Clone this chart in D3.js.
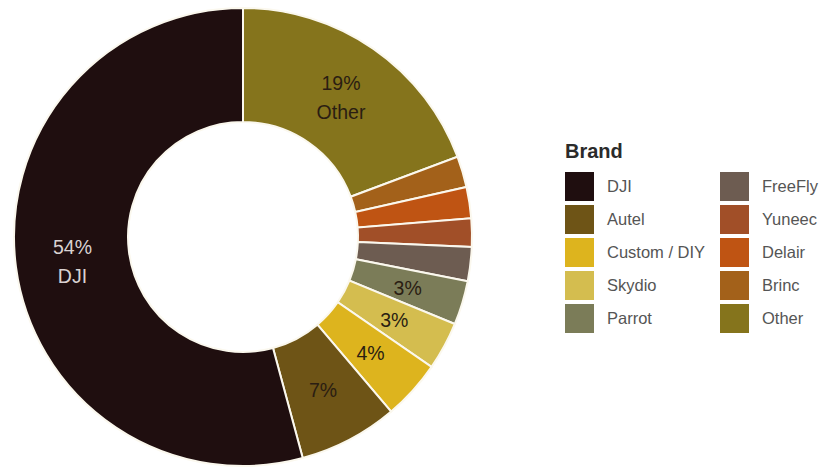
<!DOCTYPE html>
<html>
<head>
<meta charset="utf-8">
<script src="https://cdn.jsdelivr.net/npm/d3@7"></script>
<style>
  html, body { margin: 0; padding: 0; background: #fff; }
  svg { display: block; font-family: "Liberation Sans", Arial, sans-serif; }
</style>
</head>
<body>
<svg id="chart" width="832" height="468"></svg>
<script>
const brands = ["DJI", "Autel", "Custom / DIY", "Skydio", "Parrot", "FreeFly", "Yuneec", "Delair", "Brinc", "Other"];
const shares = [54.2, 7.0, 4.2, 3.4, 3.1, 2.4, 2.0, 2.2, 2.2, 19.3];
const colors = ["#1f0e0f", "#6e5416", "#ddb41e", "#d4bd4f", "#7b7c58", "#6d5c51", "#a14f28", "#bf5413", "#a3611a", "#85741c"];
const labelMin = 3;

const data = brands.map((b, i) => ({ brand: b, value: shares[i], color: colors[i] }));

const svg = d3.select("#chart");
const cx = 243, cy = 237, outerR = 229, innerR = 115;

const color = d3.scaleOrdinal().domain(brands).range(colors);

// DJI ends at 12 o'clock; the rest run clockwise from the top in reverse order
const pie = d3.pie().value(d => d.value).sort(null);
const ordered = data.slice().reverse();
const arcs = pie(ordered);
const arc = d3.arc().innerRadius(innerR).outerRadius(outerR);

const g = svg.append("g").attr("transform", `translate(${cx},${cy})`);
g.selectAll("path").data(arcs).join("path")
  .attr("d", arc)
  .attr("fill", d => color(d.data.brand))
  .attr("stroke", "#fbf8ee")
  .attr("stroke-width", 2);

const labels = g.selectAll("g.lbl").data(arcs.filter(d => d.data.value >= labelMin)).join("g")
  .attr("class", "lbl")
  .attr("transform", d => `translate(${arc.centroid(d)})`);

labels.each(function(d) {
  const sel = d3.select(this);
  const pct = Math.round(d.data.value) + "%";
  const fill = d.data.brand === "DJI" ? "#d9d2d2" : "#2a1d12";
  const showName = d.data.brand === "DJI" || d.data.brand === "Other";
  if (showName) {
    sel.append("text").attr("y", -6).attr("text-anchor", "middle").attr("font-size", 19.5).attr("fill", fill).text(pct);
    sel.append("text").attr("y", 23).attr("text-anchor", "middle").attr("font-size", 19.5).attr("fill", fill).text(d.data.brand);
  } else {
    sel.append("text").attr("y", 8).attr("text-anchor", "middle").attr("font-size", 19.5).attr("fill", fill).text(pct);
  }
});

// Legend
const legend = svg.append("g").attr("transform", "translate(565,0)");
legend.append("text").attr("x", 0).attr("y", 158).attr("font-size", 20).attr("font-weight", "bold").attr("fill", "#2b2b2b").text("Brand");

const items = legend.selectAll("g.item").data(brands).join("g")
  .attr("class", "item")
  .attr("transform", (d, i) => `translate(${Math.floor(i / 5) * 155},${172 + (i % 5) * 33})`);
items.append("rect").attr("width", 29).attr("height", 29).attr("fill", d => color(d));
items.append("text").attr("x", 42).attr("y", 20).attr("font-size", 16.5).attr("fill", "#555").text(d => d);
</script>
</body>
</html>
